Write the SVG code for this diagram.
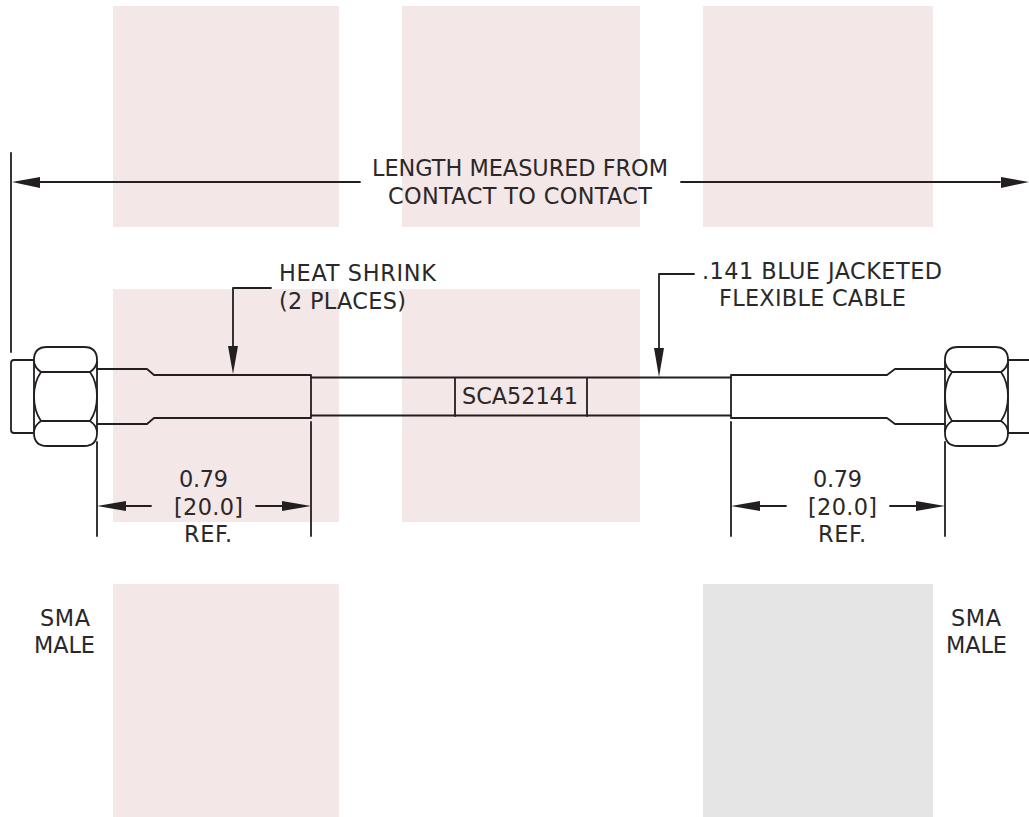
<svg xmlns="http://www.w3.org/2000/svg" width="1029" height="817" viewBox="0 0 1029 817">
<style>
.b{fill:#f4e7e7}
.l{fill:none;stroke:#231f20;stroke-width:1.8;stroke-linejoin:round;stroke-linecap:round}
.a{fill:#231f20;stroke:none}
text{font-family:"DejaVu Sans",Verdana,sans-serif;font-size:22.400px;fill:#2b2829}
</style>
<g id="background">
<rect class="b" x="113" y="6" width="226" height="221"/>
<rect class="b" x="402" y="6" width="238" height="221"/>
<rect class="b" x="703" y="6" width="230" height="221"/>
<rect class="b" x="113" y="289" width="226" height="233"/>
<rect class="b" x="402" y="289" width="238" height="233"/>
<rect class="b" x="113" y="584" width="226" height="233"/>
<rect x="703" y="584" width="230" height="233" fill="#e5e5e5"/>
</g>
<g id="connector-left">
<path class="l" d="M33 360H14Q11 360 11 363V430Q11 433 14 433H33"/>
<path class="l" d="M47 347H84Q97 347 97 360V433Q97 446 84 446H47Q34 446 34 433V360Q34 347 47 347Z"/>
<path class="l" d="M41 372H90M41 421H90M41 372Q34 382 34 396.500Q34 411 41 421M90 372Q97 382 97 396.500Q97 411 90 421M34 362Q35 368 41 372M97 362Q96 368 90 372M34 431Q35 425 41 421M97 431Q96 425 90 421"/>
</g>
<g id="connector-right">
<path class="l" d="M958 347H995Q1008 347 1008 360V433Q1008 446 995 446H958Q945 446 945 433V360Q945 347 958 347Z"/>
<path class="l" d="M952 372H1001M952 421H1001M952 372Q945 382 945 396.500Q945 411 952 421M1001 372Q1008 382 1008 396.500Q1008 411 1001 421M945 362Q946 368 952 372M1008 362Q1007 368 1001 372M945 431Q946 425 952 421M1008 431Q1007 425 1001 421"/>
<path class="l" d="M1008 360H1029M1008 433H1029"/>
</g>
<g id="cable">
<path class="l" d="M97 369H147L154 375H311V418H154L147 424H97"/>
<path class="l" d="M311 377.500H731M311 415.500H731"/>
<path class="l" d="M731 375V418M731 375H887L895 369H945M731 418H887L895 424H945"/>
<path class="l" d="M455 378V416M587 378V416"/>
</g>
<g id="connectors">
<path class="l" d="M11 153V352"/>
<path class="l" d="M40 182H360M681 182H1000"/>
<polygon class="a" points="12,182 40,177 40,188"/>
<polygon class="a" points="1029,182 1001,177 1001,188"/>
<path class="l" d="M271 288H233V348"/>
<polygon class="a" points="233,374 228,346 238,346"/>
<path class="l" d="M694 274H659V350"/>
<polygon class="a" points="659,377 654,348 664,348"/>
<path class="l" d="M97 442V536M311 422V536M731 422V536M945 442V536"/>
<path class="l" d="M125 506H151M256 506H283M759 506H786M890 506H917"/>
<polygon class="a" points="97,506 126,501 126,511"/>
<polygon class="a" points="311,506 282,501 282,511"/>
<polygon class="a" points="731,506 760,501 760,511"/>
<polygon class="a" points="945,506 916,501 916,511"/>
</g>
<g id="labels">
<text x="372" y="176" textLength="296">LENGTH MEASURED FROM</text>
<text x="388" y="204" textLength="264">CONTACT TO CONTACT</text>
<text x="279" y="281" textLength="157">HEAT SHRINK</text>
<text x="279" y="309" textLength="127">(2 PLACES)</text>
<text x="702" y="279" textLength="240">.141 BLUE JACKETED</text>
<text x="719" y="306" textLength="187">FLEXIBLE CABLE</text>
<text x="462" y="404" textLength="116">SCA52141</text>
<text x="179" y="487" textLength="49">0.79</text>
<text x="174" y="515" textLength="69">[20.0]</text>
<text x="184" y="542" textLength="48">REF.</text>
<text x="813" y="487" textLength="49">0.79</text>
<text x="808" y="515" textLength="69">[20.0]</text>
<text x="818" y="542" textLength="48">REF.</text>
<text x="40" y="626" textLength="50">SMA</text>
<text x="34" y="653" textLength="61">MALE</text>
<text x="951" y="626" textLength="50">SMA</text>
<text x="946" y="653" textLength="61">MALE</text>
</g>
</svg>
